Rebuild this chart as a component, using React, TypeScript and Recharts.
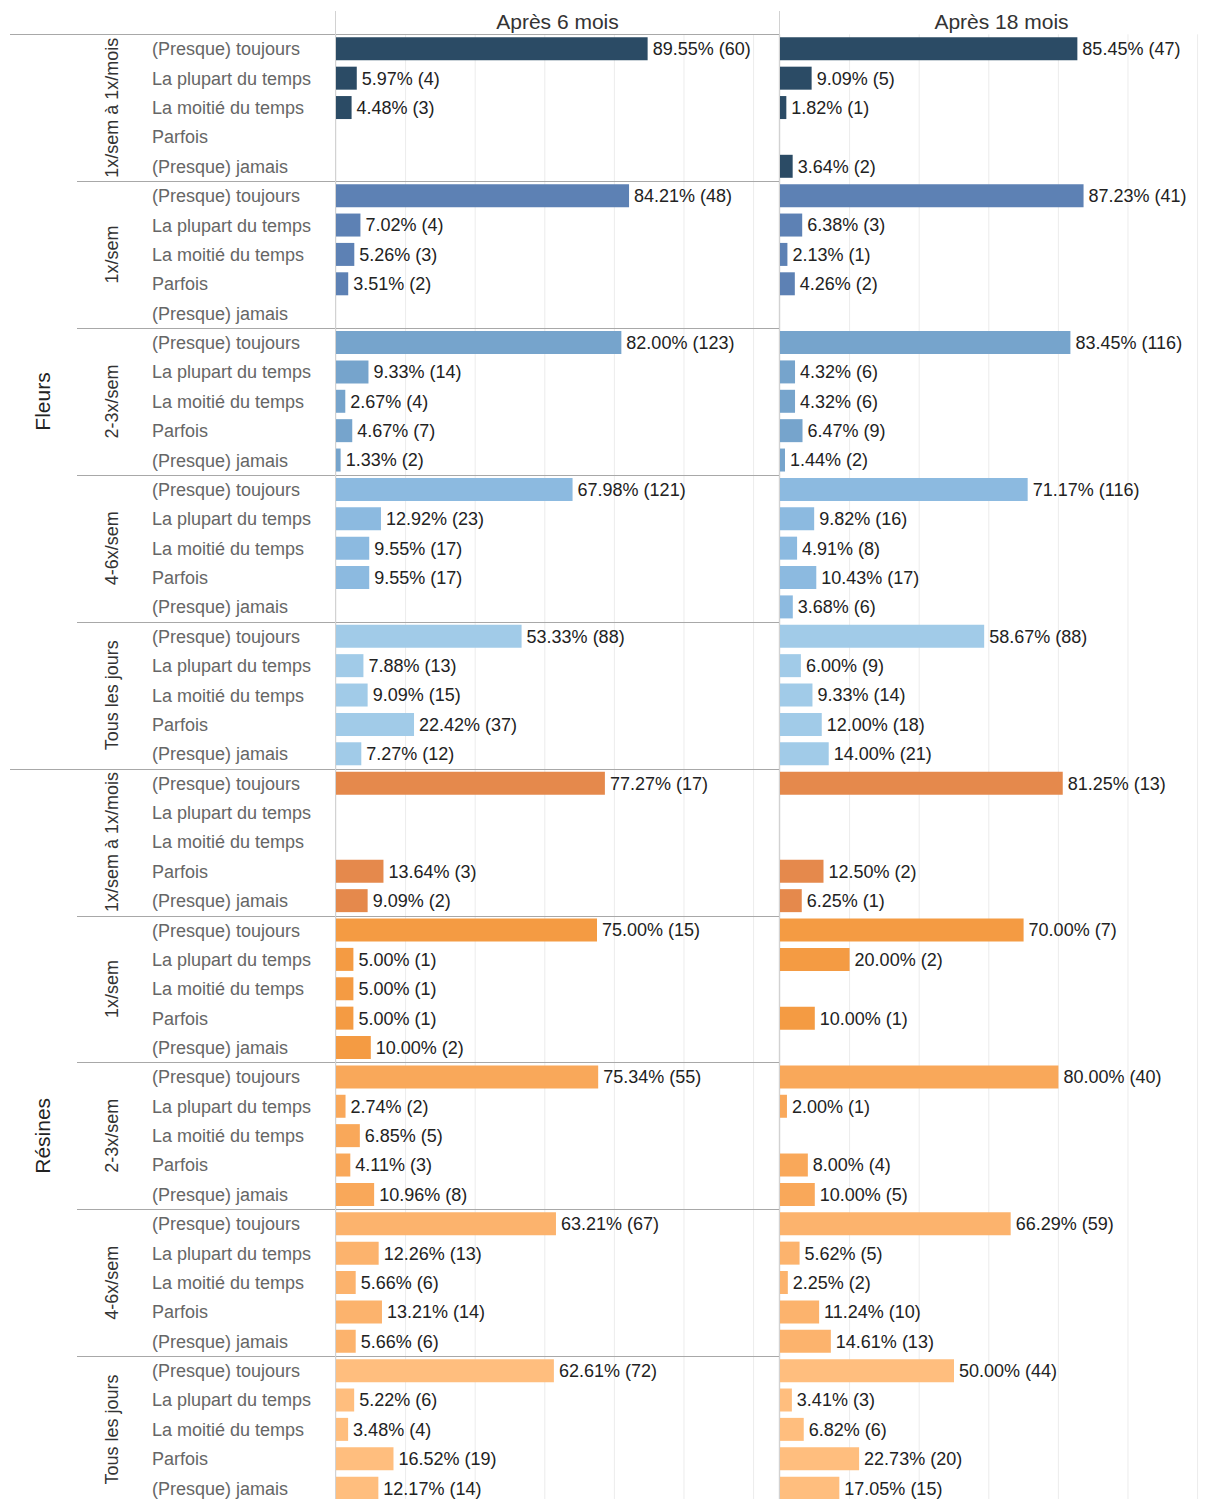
import React from 'react';
import { BarChart, Bar, XAxis, YAxis, CartesianGrid, LabelList, Cell } from 'recharts';

const groups = ['Fleurs', 'Résines'];
const frequencies = ['1x/sem à 1x/mois', '1x/sem', '2-3x/sem', '4-6x/sem', 'Tous les jours'];
const responses = ['(Presque) toujours', 'La plupart du temps', 'La moitié du temps', 'Parfois', '(Presque) jamais'];
const periods = ['Après 6 mois', 'Après 18 mois'];

const fleursColors = ['#2b4b65', '#5d81b4', '#76a4cc', '#8cbae0', '#a1cbe8'];
const resinesColors = ['#e5894c', '#f49b43', '#f9a85a', '#fcb36d', '#ffbe7e'];

// % of respondents, row order = group > frequency > response
const pct6 = [
  89.55, 5.97, 4.48, null, null,
  84.21, 7.02, 5.26, 3.51, null,
  82.0, 9.33, 2.67, 4.67, 1.33,
  67.98, 12.92, 9.55, 9.55, null,
  53.33, 7.88, 9.09, 22.42, 7.27,
  77.27, null, null, 13.64, 9.09,
  75.0, 5.0, 5.0, 5.0, 10.0,
  75.34, 2.74, 6.85, 4.11, 10.96,
  63.21, 12.26, 5.66, 13.21, 5.66,
  62.61, 5.22, 3.48, 16.52, 12.17,
];
const n6 = [
  60, 4, 3, null, null,
  48, 4, 3, 2, null,
  123, 14, 4, 7, 2,
  121, 23, 17, 17, null,
  88, 13, 15, 37, 12,
  17, null, null, 3, 2,
  15, 1, 1, 1, 2,
  55, 2, 5, 3, 8,
  67, 13, 6, 14, 6,
  72, 6, 4, 19, 14,
];
const pct18 = [
  85.45, 9.09, 1.82, null, 3.64,
  87.23, 6.38, 2.13, 4.26, null,
  83.45, 4.32, 4.32, 6.47, 1.44,
  71.17, 9.82, 4.91, 10.43, 3.68,
  58.67, 6.0, 9.33, 12.0, 14.0,
  81.25, null, null, 12.5, 6.25,
  70.0, 20.0, null, 10.0, null,
  80.0, 2.0, null, 8.0, 10.0,
  66.29, 5.62, 2.25, 11.24, 14.61,
  50.0, 3.41, 6.82, 22.73, 17.05,
];
const n18 = [
  47, 5, 1, null, 2,
  41, 3, 1, 2, null,
  116, 6, 6, 9, 2,
  116, 16, 8, 17, 6,
  88, 9, 14, 18, 21,
  13, null, null, 2, 1,
  7, 2, null, 1, null,
  40, 1, null, 4, 5,
  59, 5, 2, 10, 13,
  44, 3, 6, 20, 15,
];

const fmt = (v: number | null, n: number | null) =>
  v == null ? null : `${v.toFixed(2)}% (${n})`;

const rows: any[] = [];
groups.forEach((g, gi) => {
  frequencies.forEach((f, fi) => {
    responses.forEach((r) => {
      const i = rows.length;
      rows.push({
        id: `${g}|${f}|${r}`,
        sub: `${g}|${f}`,
        grp: g,
        v6: pct6[i],
        l6: fmt(pct6[i], n6[i]),
        v18: pct18[i],
        l18: fmt(pct18[i], n18[i]),
        color: gi === 0 ? fleursColors[fi] : resinesColors[fi],
      });
    });
  });
});

const CHART_H = 1503;
const TOP = 34.3;
const ROW_H = (CHART_H - TOP) / rows.length;
const LEFT_W = 336;
const PANEL_W = 443;
const X_MAX = 127.3;
const FONT = '"Liberation Sans", Arial, sans-serif';

const sepY = (y: number) => Math.round(y - ROW_H / 2) + 0.5;

const RowTick = ({ y, payload }: any) => {
  const idx = rows.findIndex((r) => r.id === payload.value);
  const label = String(payload.value).split('|')[2];
  const top = sepY(y);
  return (
    <g>
      {idx % 5 === 0 && (
        <line x1={idx % 25 === 0 ? 10 : 77} x2={LEFT_W + PANEL_W} y1={top} y2={top} stroke="#a8a8a8" />
      )}
      <text x={152} y={y} dy="0.35em" fontSize={18} fill="#666">{label}</text>
    </g>
  );
};

const LineTick = ({ y, payload }: any) => {
  const idx = rows.findIndex((r) => r.id === payload.value);
  if (idx % 5 !== 0) return <g />;
  const top = sepY(y);
  return <line x1={0} x2={PANEL_W} y1={top} y2={top} stroke="#a8a8a8" />;
};

const SubTick = ({ y, payload }: any) => (
  <text x={112} y={y} dy="0.35em" textAnchor="middle" fontSize={18} fill="#333"
    transform={`rotate(-90, 112, ${y})`}>
    {String(payload.value).split('|')[1]}
  </text>
);

const GrpTick = ({ y, payload }: any) => (
  <text x={43} y={y} dy="0.35em" textAnchor="middle" fontSize={21} fill="#222"
    transform={`rotate(-90, 43, ${y})`}>
    {payload.value}
  </text>
);

const gridTicks = [0, 20, 40, 60, 80, 100, 120];

export default function App() {
  return (
    <div style={{ position: 'absolute', left: 0, top: 0, width: 1211, height: 1499, overflow: 'hidden', background: '#fff', fontFamily: FONT }}>
      <div style={{ position: 'absolute', left: 0, top: 0 }}>
        <BarChart width={LEFT_W + PANEL_W} height={CHART_H} data={rows} layout="vertical"
          margin={{ top: TOP, right: 0, bottom: 0, left: 0 }}>
          <CartesianGrid horizontal={false} stroke="#ececec" yAxisId="row" />
          <XAxis type="number" domain={[0, X_MAX]} ticks={gridTicks} hide />
          <YAxis yAxisId="row" type="category" dataKey="id" width={184} interval={0}
            tickLine={false} axisLine={false} tick={<RowTick />} />
          <YAxis yAxisId="sub" type="category" dataKey="sub" allowDuplicatedCategory={false} width={76}
            interval={0} tickLine={false} axisLine={false} tick={<SubTick />} />
          <YAxis yAxisId="grp" type="category" dataKey="grp" allowDuplicatedCategory={false} width={76}
            interval={0} tickLine={false} axisLine={false} tick={<GrpTick />} />
          <Bar dataKey="v6" yAxisId="row" barSize={23} isAnimationActive={false}>
            {rows.map((r) => <Cell key={r.id} fill={r.color} />)}
            <LabelList dataKey="l6" position="right" offset={5} fontSize={18} fill="#222" />
          </Bar>
        </BarChart>
      </div>
      <div style={{ position: 'absolute', left: LEFT_W + PANEL_W + 1, top: 0 }}>
        <BarChart width={PANEL_W} height={CHART_H} data={rows} layout="vertical"
          margin={{ top: TOP, right: 0, bottom: 0, left: 0 }}>
          <CartesianGrid horizontal={false} stroke="#ececec" yAxisId="row" />
          <XAxis type="number" domain={[0, X_MAX]} ticks={gridTicks} hide />
          <YAxis yAxisId="row" type="category" dataKey="id" width={0} interval={0}
            tickLine={false} axisLine={false} tick={<LineTick />} />
          <Bar dataKey="v18" yAxisId="row" barSize={23} isAnimationActive={false}>
            {rows.map((r) => <Cell key={r.id} fill={r.color} />)}
            <LabelList dataKey="l18" position="right" offset={5} fontSize={18} fill="#222" />
          </Bar>
        </BarChart>
      </div>
      {periods.map((p, i) => (
        <div key={p} style={{ position: 'absolute', left: LEFT_W + i * (PANEL_W + 1), top: 10, width: PANEL_W, textAlign: 'center', fontSize: 21, lineHeight: '24px', color: '#333' }}>
          {p}
        </div>
      ))}
      {periods.map((p, i) => (
        <div key={p + 'line'} style={{ position: 'absolute', left: LEFT_W - 1 + i * (PANEL_W + 1), top: 11, width: 1, height: 1490, background: '#d2d2d2' }} />
      ))}
    </div>
  );
}
